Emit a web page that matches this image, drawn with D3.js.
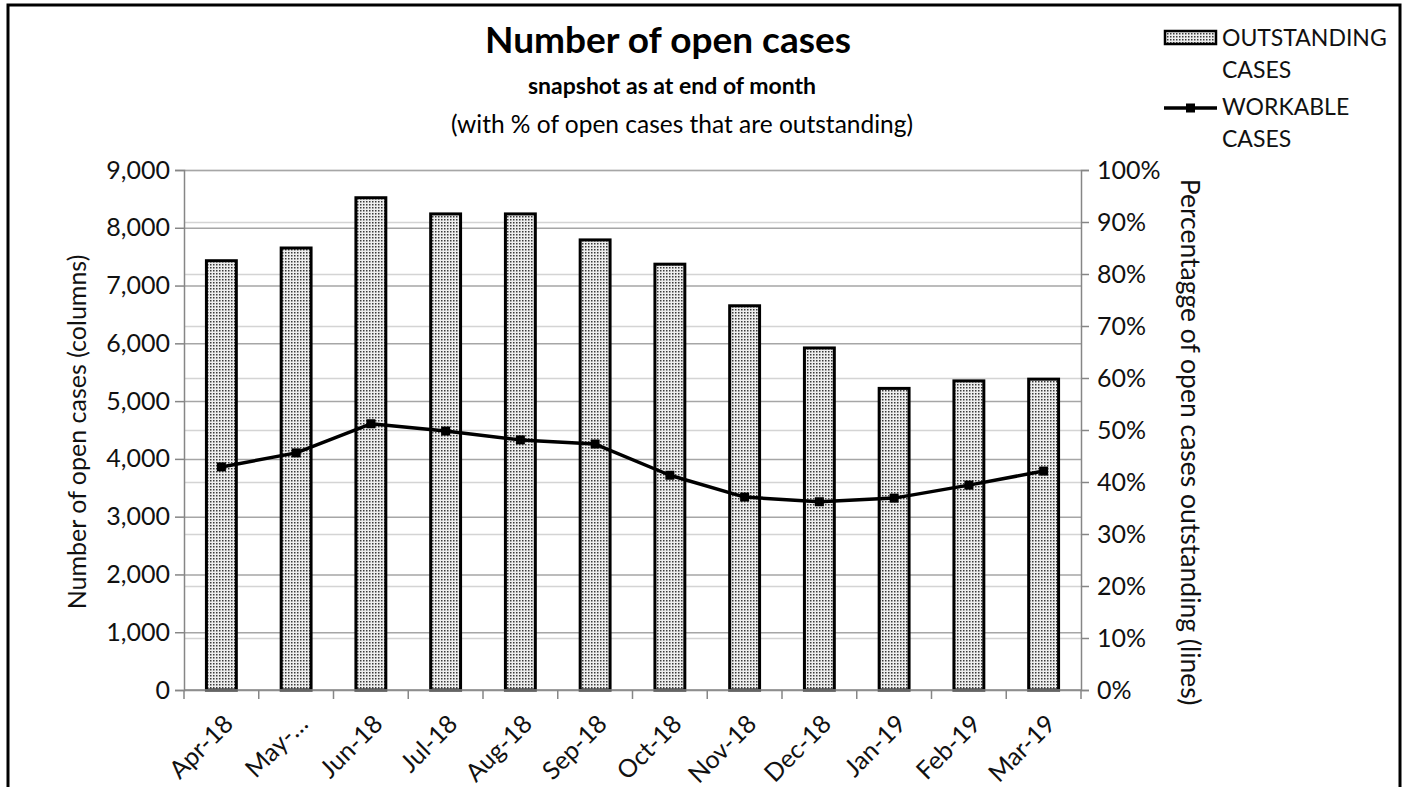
<!DOCTYPE html>
<html>
<head>
<meta charset="utf-8">
<title>Number of open cases</title>
<script src="https://cdn.jsdelivr.net/npm/d3@7/dist/d3.min.js"></script>
<style>
	html, body { margin: 0; padding: 0; background: #fff; }
	svg { display: block; font-family: Lato, 'Open Sans', sans-serif; }
</style>
</head>
<body>
<div id="chart"></div>
<script>
	// Values
	const months = ['Apr-18', 'May-\u2026', 'Jun-18', 'Jul-18', 'Aug-18', 'Sep-18', 'Oct-18', 'Nov-18', 'Dec-18', 'Jan-19', 'Feb-19', 'Mar-19'];
	const outstandingCases = [7430, 7650, 8520, 8240, 8240, 7790, 7370, 6650, 5920, 5220, 5350, 5380];
	const workablePct = [0.429, 0.456, 0.512, 0.498, 0.481, 0.473, 0.413, 0.371, 0.362, 0.369, 0.394, 0.421];
	const leftTicks = [0, 1000, 2000, 3000, 4000, 5000, 6000, 7000, 8000, 9000];
	const rightTicks = [0, 0.1, 0.2, 0.3, 0.4, 0.5, 0.6, 0.7, 0.8, 0.9, 1];

	const width = 1408;
	const height = 787;
	const plot = { left: 184, right: 1081, top: 170, bottom: 690 };
	const axisColor = '#868686';
	const textColor = '#111';

	const svg = d3.select('#chart')
		.append('svg')
		.attr('width', width)
		.attr('height', height);

	// Dotted fill used by the columns
	const pattern = svg.append('defs').append('pattern')
		.attr('id', 'dots')
		.attr('patternUnits', 'userSpaceOnUse')
		.attr('width', 3)
		.attr('height', 3);
	pattern.append('rect').attr('width', 3).attr('height', 3).attr('fill', '#eeeeee');
	pattern.append('rect').attr('width', 1.5).attr('height', 1.5).attr('fill', '#3a3a3a');

	// Outer frame
	svg.append('rect')
		.attr('x', 8)
		.attr('y', 5)
		.attr('width', 1392)
		.attr('height', 800)
		.attr('fill', 'none')
		.attr('stroke', '#000')
		.attr('stroke-width', 3);

	// Scales
	const x = d3.scaleBand()
		.domain(months)
		.range([plot.left, plot.right])
		.paddingInner(0.6)
		.paddingOuter(0.3);
	const step = x.step();
	const y = d3.scaleLinear().domain([0, 9000]).range([plot.bottom, plot.top]);
	const yPct = d3.scaleLinear().domain([0, 1]).range([plot.bottom, plot.top]);

	// Secondary gridlines (lighter), then primary gridlines
	svg.append('g')
		.attr('transform', 'translate(' + plot.left + ',0)')
		.call(d3.axisLeft(yPct).tickValues(rightTicks).tickSize(-(plot.right - plot.left)).tickFormat(''))
		.call(function(g) {
			g.select('.domain').remove();
			g.selectAll('.tick line').attr('stroke', '#d4d4d4').attr('stroke-width', 1.5);
		});
	svg.append('g')
		.attr('transform', 'translate(' + plot.left + ',0)')
		.call(d3.axisLeft(y).tickValues(leftTicks).tickSize(-(plot.right - plot.left)).tickFormat(''))
		.call(function(g) {
			g.select('.domain').remove();
			g.selectAll('.tick line').attr('stroke', '#a6a6a6').attr('stroke-width', 1.5);
		});

	// Columns
	svg.append('g')
		.selectAll('rect')
		.data(outstandingCases)
		.join('rect')
		.attr('x', function(d, i) { return x(months[i]); })
		.attr('y', function(d) { return y(d); })
		.attr('width', x.bandwidth())
		.attr('height', function(d) { return y(0) - y(d); })
		.attr('fill', 'url(#dots)')
		.attr('stroke', '#000')
		.attr('stroke-width', 3);

	// Left axis
	svg.append('g')
		.attr('transform', 'translate(' + plot.left + ',0)')
		.call(d3.axisLeft(y).tickValues(leftTicks).tickSize(9).tickPadding(5).tickFormat(d3.format(',')))
		.call(styleAxis);

	// Right axis
	svg.append('g')
		.attr('transform', 'translate(' + plot.right + ',0)')
		.call(d3.axisRight(yPct).tickValues(rightTicks).tickSize(8).tickPadding(8).tickFormat(d3.format('.0%')))
		.call(styleAxis);

	// Bottom axis: ticks sit on the category boundaries
	const xAxis = svg.append('g')
		.attr('transform', 'translate(0,' + plot.bottom + ')');
	xAxis.append('line')
		.attr('x1', plot.left)
		.attr('x2', plot.right)
		.attr('stroke', axisColor)
		.attr('stroke-width', 1.5);
	xAxis.selectAll('line.tick')
		.data(d3.range(months.length + 1))
		.join('line')
		.attr('class', 'tick')
		.attr('x1', function(i) { return plot.left + i * step; })
		.attr('x2', function(i) { return plot.left + i * step; })
		.attr('y1', 0)
		.attr('y2', 9)
		.attr('stroke', axisColor)
		.attr('stroke-width', 1.5);
	xAxis.selectAll('text')
		.data(months)
		.join('text')
		.attr('transform', function(d) {
			return 'translate(' + (x(d) + x.bandwidth() / 2 + 1) + ',23) rotate(-45)';
		})
		.attr('text-anchor', 'end')
		.attr('dy', '0.7em')
		.style('font-size', '25px')
		.style('fill', textColor)
		.text(function(d) { return d; });

	function styleAxis(g) {
		g.select('.domain').attr('stroke', axisColor).attr('stroke-width', 1.5);
		g.selectAll('.tick line').attr('stroke', axisColor).attr('stroke-width', 1.5);
		g.selectAll('.tick text')
			.style('font-size', '25px')
			.style('font-family', 'Lato, sans-serif')
			.style('fill', textColor);
	}

	// Line with square markers
	const line = d3.line()
		.x(function(d, i) { return x(months[i]) + x.bandwidth() / 2; })
		.y(function(d) { return yPct(d); });

	svg.append('path')
		.datum(workablePct)
		.attr('d', line)
		.attr('fill', 'none')
		.attr('stroke', '#000')
		.attr('stroke-width', 3.5)
		.attr('stroke-linejoin', 'round');

	svg.append('g')
		.selectAll('rect')
		.data(workablePct)
		.join('rect')
		.attr('x', function(d, i) { return x(months[i]) + x.bandwidth() / 2 - 4.5; })
		.attr('y', function(d) { return yPct(d) - 4.5; })
		.attr('width', 9)
		.attr('height', 9)
		.attr('fill', '#000');

	// Titles
	const titles = [
		{ text: 'Number of open cases', x: 668, y: 53, size: 37, weight: 'bold' },
		{ text: 'snapshot as at end of month', x: 672, y: 94, size: 23, weight: 'bold' },
		{ text: '(with % of open cases that are outstanding)', x: 682, y: 133, size: 24.5, weight: 'normal' }
	];
	svg.append('g')
		.selectAll('text')
		.data(titles)
		.join('text')
		.attr('x', function(d) { return d.x; })
		.attr('y', function(d) { return d.y; })
		.attr('text-anchor', 'middle')
		.style('font-size', function(d) { return d.size + 'px'; })
		.style('font-weight', function(d) { return d.weight; })
		.style('fill', '#000')
		.text(function(d) { return d.text; });

	// Axis titles
	svg.append('text')
		.attr('transform', 'translate(86,432) rotate(-90)')
		.attr('text-anchor', 'middle')
		.style('font-size', '25px')
		.style('fill', textColor)
		.text('Number of open cases (columns)');

	svg.append('text')
		.attr('transform', 'translate(1181,442) rotate(90)')
		.attr('text-anchor', 'middle')
		.style('font-size', '26.5px')
		.style('fill', textColor)
		.text('Percentagge of open cases outstanding (lines)');

	// Legend
	const legend = svg.append('g');
	legend.append('rect')
		.attr('x', 1165)
		.attr('y', 31)
		.attr('width', 51)
		.attr('height', 13)
		.attr('fill', 'url(#dots)')
		.attr('stroke', '#000')
		.attr('stroke-width', 2.5);
	legend.append('line')
		.attr('x1', 1164)
		.attr('x2', 1217)
		.attr('y1', 108)
		.attr('y2', 108)
		.attr('stroke', '#000')
		.attr('stroke-width', 3.5);
	legend.append('rect')
		.attr('x', 1186)
		.attr('y', 103.5)
		.attr('width', 9)
		.attr('height', 9)
		.attr('fill', '#000');

	const legendLines = [
		{ text: 'OUTSTANDING', y: 46 },
		{ text: 'CASES', y: 78 },
		{ text: 'WORKABLE', y: 115 },
		{ text: 'CASES', y: 147 }
	];
	legend.selectAll('text')
		.data(legendLines)
		.join('text')
		.attr('x', 1222)
		.attr('y', function(d) { return d.y; })
		.style('font-size', '23px')
		.style('fill', textColor)
		.text(function(d) { return d.text; });
</script>
</body>
</html>
